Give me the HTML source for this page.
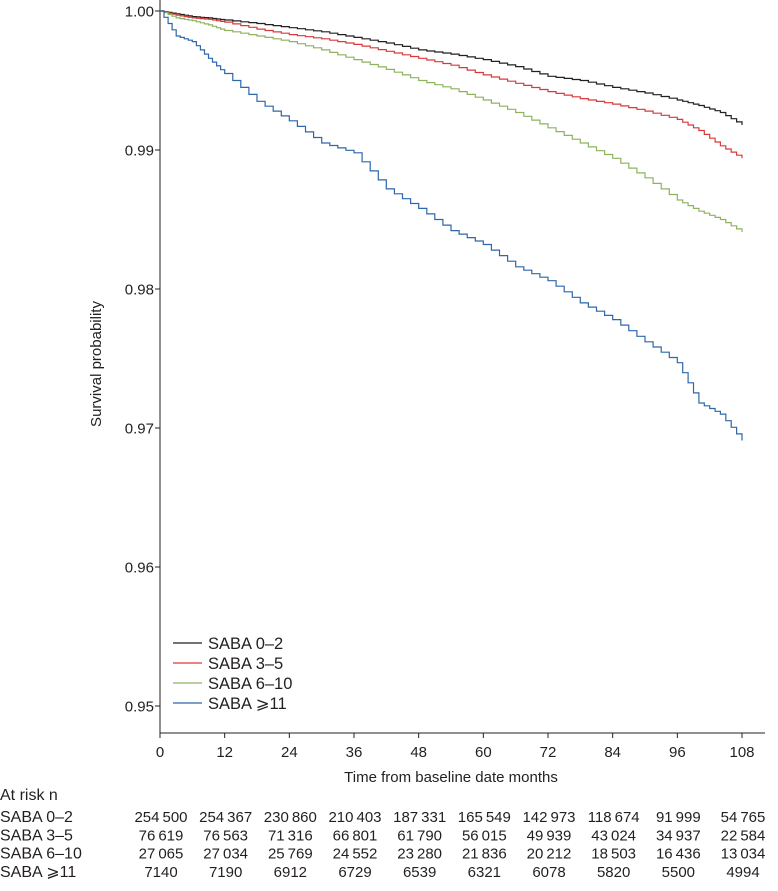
<!DOCTYPE html>
<html><head><meta charset="utf-8">
<style>
body{margin:0;background:#fff;}
svg{display:block;font-family:"Liberation Sans",sans-serif;}
text{fill:#231f20;}
</style></head>
<body>
<svg id="chart" width="778" height="891" viewBox="0 0 778 891"></svg>
<script>
const months = [0,3,6,9,12,18,24,30,36,42,48,54,60,66,72,78,84,90,96,100,104,108];
const saba02 = [1,0.9998,0.9996,0.9995,0.99935,0.9991,0.9988,0.9985,0.9981,0.9977,0.9972,0.9969,0.9965,0.9960,0.9953,0.9950,0.9945,0.9941,0.9936,0.9932,0.9927,0.9918];
const saba35 = [1,0.9997,0.9995,0.9994,0.9992,0.9987,0.9983,0.9980,0.9976,0.9971,0.9966,0.9961,0.9954,0.9948,0.9942,0.9937,0.9933,0.9928,0.9922,0.9914,0.9903,0.9894];
const saba610 = [1,0.9995,0.9993,0.9990,0.9986,0.9982,0.9978,0.9972,0.9965,0.9958,0.9950,0.9944,0.9936,0.9927,0.9916,0.9905,0.9894,0.9880,0.9864,0.9856,0.9850,0.9841];
const saba11 = [1,0.9982,0.9978,0.9966,0.9955,0.9935,0.9921,0.9905,0.9898,0.9872,0.9858,0.9842,0.9832,0.9816,0.9806,0.9790,0.9778,0.9762,0.9747,0.9718,0.9710,0.9691];
const seriesNames = ["SABA 0–2","SABA 3–5","SABA 6–10","SABA ⩾11"];
const seriesColors = ["#231f20","#d9393b","#8db35f","#2e67ab"];
const xTicks = [0,12,24,36,48,60,72,84,96,108];
const yTicks = [1.00,0.99,0.98,0.97,0.96,0.95];
const risk02 = ["254 500","254 367","230 860","210 403","187 331","165 549","142 973","118 674","91 999","54 765"];
const risk35 = ["76 619","76 563","71 316","66 801","61 790","56 015","49 939","43 024","34 937","22 584"];
const risk610 = ["27 065","27 034","25 769","24 552","23 280","21 836","20 212","18 503","16 436","13 034"];
const risk11 = ["7140","7190","6912","6729","6539","6321","6078","5820","5500","4994"];

const NS="http://www.w3.org/2000/svg";
const svg=document.getElementById('chart');
function X(m){return 160+m*(742-160)/108;}
function Y(v){return 11+(1-v)*13900;}
function el(tag,attrs,parent,txt){const e=document.createElementNS(NS,tag);for(const k in attrs)e.setAttribute(k,attrs[k]);if(txt!==undefined)e.textContent=txt;(parent||svg).appendChild(e);return e;}

let a=el('line',{x1:160,y1:0,x2:160,y2:733,stroke:'#231f20','stroke-width':1});


a=el('line',{x1:160,y1:733,x2:765,y2:733,stroke:'#231f20','stroke-width':1});


yTicks.forEach(v=>{
  el('line',{x1:155,y1:Y(v),x2:160,y2:Y(v),stroke:'#231f20'});
  const t=el('text',{x:154,y:Y(v)+5.5,'text-anchor':'end','font-size':15},svg,v.toFixed(2));
  
  
});
xTicks.forEach(m=>{
  el('line',{x1:X(m),y1:733,x2:X(m),y2:738,stroke:'#231f20'});
  const t=el('text',{x:X(m),y:757,'text-anchor':'middle','font-size':15},svg,String(m));
  
  
});
let t=el('text',{x:451,y:782,'text-anchor':'middle','font-size':15},svg,'Time from baseline date months');


t=el('text',{x:0,y:0,'text-anchor':'middle','font-size':15,transform:'translate(101,364) rotate(-90)'},svg,'Survival probability');



[saba02,saba35,saba610,saba11].forEach((vals,i)=>{
  let d='M'+X(months[0])+','+Y(vals[0]);
  for(let k=1;k<months.length;k++){
    const x=X(months[k]);
    const x0=X(months[k-1]),y0=Y(vals[k-1]),y1=Y(vals[k]);
    const n=4;
    for(let s=1;s<=n;s++){
      const xs=x0+(x-x0)*s/n, ys=y0+(y1-y0)*s/n;
      d+=' H'+xs.toFixed(1)+' V'+ys.toFixed(1);
    }
  }
  const p=el('path',{d:d,fill:'none',stroke:seriesColors[i],'stroke-width':1.2});
  
  
});

seriesNames.forEach((n,i)=>{
  const y=643+i*20;
  const g=el('g',{});
  
  
  el('line',{x1:173,y1:y,x2:202,y2:y,stroke:seriesColors[i],'stroke-width':1.2},g);
  el('text',{x:208,y:y+6,'font-size':16.5},g,n);
});

t=el('text',{x:0,y:800,'font-size':16},svg,'At risk n');


[risk02,risk35,risk610,risk11].forEach((row,i)=>{
  const y=822+i*18.3;
  const lbl=el('text',{x:0,y:y,'font-size':16},svg,seriesNames[i]);
  
  
  row.forEach((v,j)=>{
    const c=el('text',{x:X(xTicks[j])+1,y:y,'text-anchor':'middle','font-size':15},svg,v.replace(' ','\u2009'));
    
    
  });
});
</script>
</body></html>
